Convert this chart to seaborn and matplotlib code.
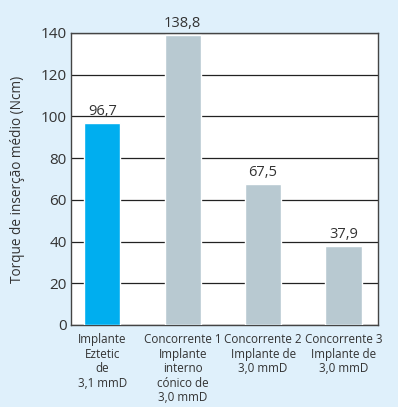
import pandas as pd
import matplotlib.pyplot as plt
import seaborn as sns

categories = ['Implante\nEztetic\nde\n3,1 mmD',
              'Concorrente 1\nImplante\ninterno\ncónico de\n3,0 mmD',
              'Concorrente 2\nImplante de\n3,0 mmD',
              'Concorrente 3\nImplante de\n3,0 mmD']
values = [96.7, 138.8, 67.5, 37.9]
colors = ['#00aeef', '#b8c9d1', '#b8c9d1', '#b8c9d1']

df = pd.DataFrame({'cat': categories, 'val': values})

sns.set_theme(style='white')
plt.rcParams['font.family'] = ['Open Sans', 'DejaVu Sans']
text_color = '#333333'

fig = plt.figure(figsize=(3.98, 4.07), dpi=100, facecolor='#dff0fb')
ax = fig.add_axes([0.178, 0.2015, 0.772, 0.7175])
ax.set_facecolor('white')

sns.barplot(data=df, x='cat', y='val', hue='cat', palette=colors,
            legend=False, width=0.45, saturation=1, ax=ax, zorder=3)

for c in ax.containers:
    ax.bar_label(c, labels=[f'{v:.1f}'.replace('.', ',') for v in c.datavalues],
                 padding=3, fontsize=10.5, color=text_color)

ax.set_ylim(0, 140)
ax.set_yticks(range(0, 141, 20))
ax.set_xlim(-0.39, 3.43)
ax.yaxis.grid(True, color='#222222', linewidth=0.9, zorder=0)
ax.set_axisbelow(True)
for s in ax.spines.values():
    s.set_color('#444444')
    s.set_linewidth(1.0)

ax.tick_params(axis='y', length=0, pad=3, labelsize=11, labelcolor=text_color)
ax.tick_params(axis='x', length=0, pad=6, labelsize=8.4, labelcolor=text_color)
for lbl in ax.get_xticklabels():
    lbl.set_linespacing(1.15)
ax.set_xlabel('')
ax.set_ylabel('Torque de inserção médio (Ncm)', fontsize=9.8, color=text_color, labelpad=11)

fig.savefig('out.png', dpi=100, facecolor=fig.get_facecolor())
